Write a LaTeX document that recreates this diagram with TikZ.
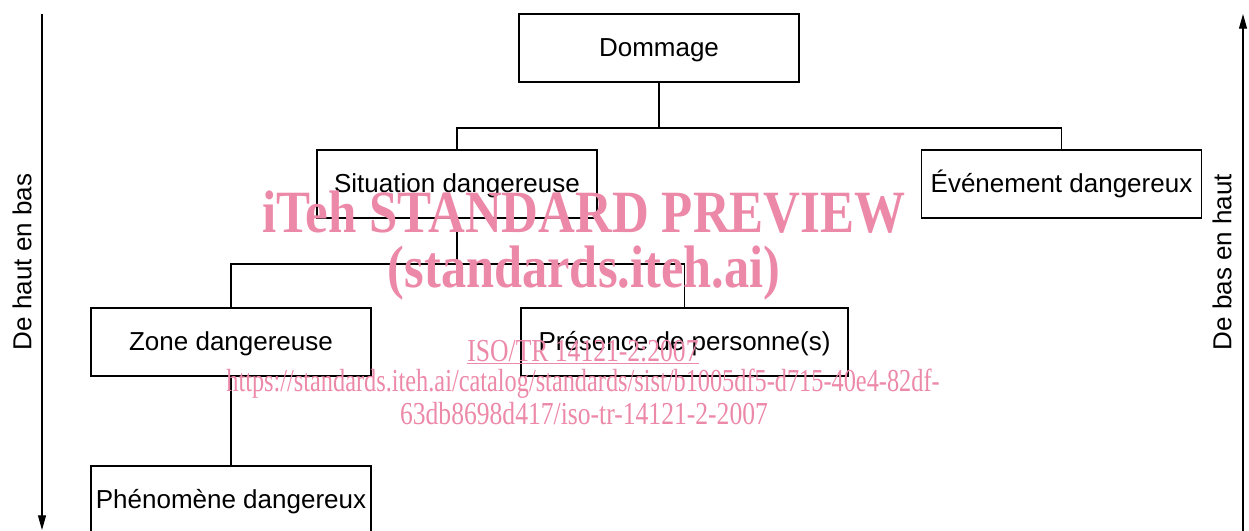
\documentclass[tikz,border=0pt]{standalone}
\usepackage{fontspec}
\setmainfont{Liberation Sans}
\newfontfamily\wmfont{Liberation Serif}
\usepackage{xcolor}
\usetikzlibrary{arrows.meta, positioning}
\definecolor{wmpink}{RGB}{236,136,168}

\begin{document}
\begin{tikzpicture}[x=0.75pt, y=-0.75pt,
  box/.style={draw, line width=1.1pt, minimum width=210pt, minimum height=51pt,
    inner sep=0pt, text height=14pt, text depth=1pt,
    font=\fontsize{19.5}{23}\selectfont},
  link/.style={line width=1.4pt},
  side/.style={rotate=90, font=\fontsize{19.5}{23}\selectfont},
  wm/.style={text=wmpink, inner sep=0pt}]
\useasboundingbox (0,0) rectangle (1249,531);

% the tree
\node[box] (dom) at (659,48) {Dommage};
\node[box] (sit) at (457,184) {Situation dangereuse};
\node[box] (evt) at (1061.5,184) {Événement dangereux};
\node[box] (zone) at (231,342) {Zone dangereuse};
\node[box, minimum width=245.25pt] (pres) at (684.5,342) {Présence de personne(s)};
\node[box] (phen) at (231,500) {Phénomène dangereux};

\draw[link] (dom.south) -- ++(0,45.5) coordinate (j1);
\draw[link] (sit.north) |- (j1) -| (evt.north);
\draw[link] (sit.south) -- ++(0,45.5) coordinate (j2);
\draw[link] (zone.north) |- (j2) -| (pres.north);
\draw[link] (zone.south) -- (phen.north);

% reading direction arrows
\coordinate (ltop) at (42,14);
\coordinate (lbot) at (42,530);
\coordinate (rbot) at (1243,531);
\coordinate (rtop) at (1243,14);
\draw[line width=0.8pt, -{Triangle[length=11pt, width=6pt]}] (ltop) -- (lbot);
\draw[line width=0.8pt, -{Triangle[length=11pt, width=6pt]}] (rbot) -- (rtop);
\node[side] (llab) at (22,262) {De haut en bas};
\node[side] (rlab) at (1222,262) {De bas en haut};

% watermark
\node[wm, font=\wmfont\bfseries\fontsize{45}{50}\selectfont] (wm1) at (584,212)
  {\scalebox{0.85}[1]{iTeh STANDARD PREVIEW}};
\node[wm, font=\wmfont\bfseries\fontsize{45}{50}\selectfont] (wm2) at (584,273)
  {\scalebox{0.84}[1]{(standards.iteh.ai)}};
\node[wm, font=\wmfont\fontsize{24}{28}\selectfont] (wm3) at (583,352)
  {\scalebox{0.8}[1]{\underline{ISO/TR 14121-2:2007}}};
\node[wm, font=\wmfont\fontsize{24}{28}\selectfont] (wm4) at (583,384)
  {\scalebox{0.76}[1]{https://standards.iteh.ai/catalog/standards/sist/b1005df5-d715-40e4-82df-}};
\node[wm, font=\wmfont\fontsize{24}{28}\selectfont] (wm5) at (584,414)
  {\scalebox{0.8}[1]{63db8698d417/iso-tr-14121-2-2007}};
\end{tikzpicture}
\end{document}
